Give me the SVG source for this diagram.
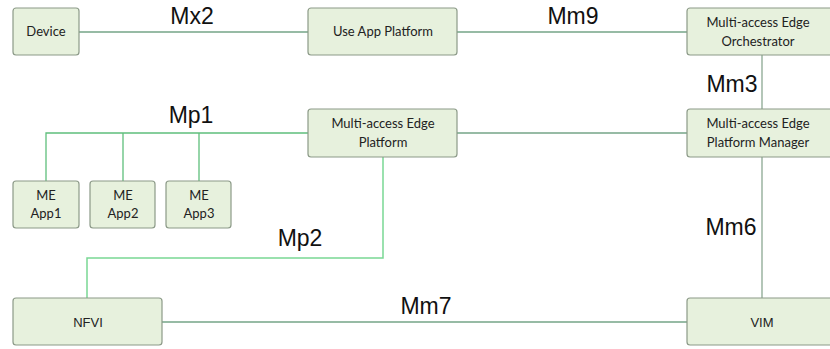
<svg xmlns="http://www.w3.org/2000/svg" width="830" height="349" viewBox="0 0 830 349">
  <style>
    .box { fill: #e7f1dd; stroke: #8c9a88; stroke-width: 1.2; }
    .txt { font-family: Lato, "Open Sans", sans-serif; font-size: 13px; fill: #222; text-anchor: middle; }
    .ntxt { font-family: "Liberation Sans", Arial, sans-serif; font-size: 13px; fill: #222; text-anchor: middle; }
    .lbl { font-family: "Liberation Sans", Arial, sans-serif; font-size: 23px; fill: #111; text-anchor: middle; }
    .ln { fill: none; stroke: #74a487; stroke-width: 1.3; }
    .lg { fill: none; stroke: #5fbf7c; stroke-width: 1.3; }
    .lb { fill: none; stroke: #79d894; stroke-width: 1.5; }
    .lm { fill: none; stroke: #8ba892; stroke-width: 1.3; }
  </style>

  <g id="connectors">
    <path class="ln" d="M79 32 H308"/>
    <path class="ln" d="M457 32 H687"/>
    <path class="lm" d="M762 55 V109"/>
    <path class="ln" d="M457 133 H687"/>
    <path class="lg" d="M308 133 H46 V181 M123 133 V181 M199 133 V181"/>
    <path class="lb" d="M383 157 V258 H87 V298"/>
    <path class="lm" d="M762 157 V298"/>
    <path class="ln" d="M162 322 H687"/>
  </g>

  <g id="labels">
    <text class="lbl" x="192" y="24">Mx2</text>
    <text class="lbl" x="573" y="24">Mm9</text>
    <text class="lbl" x="732" y="92">Mm3</text>
    <text class="lbl" x="191" y="123">Mp1</text>
    <text class="lbl" x="731" y="235">Mm6</text>
    <text class="lbl" x="300" y="246">Mp2</text>
    <text class="lbl" x="426" y="314">Mm7</text>
  </g>

  <g id="device">
    <rect class="box" x="13" y="8" width="66" height="47" rx="3"/>
    <text class="txt" x="46" y="36">Device</text>
  </g>
  <g id="use-app-platform">
    <rect class="box" x="308" y="8" width="149" height="47" rx="3"/>
    <text class="txt" x="383" y="36">Use App Platform</text>
  </g>
  <g id="orchestrator">
    <rect class="box" x="687" y="8" width="149" height="47" rx="3"/>
    <text class="txt" x="758" y="27">Multi-access Edge</text>
    <text class="txt" x="758" y="46">Orchestrator</text>
  </g>
  <g id="mep">
    <rect class="box" x="308" y="109" width="149" height="48" rx="3"/>
    <text class="txt" x="383" y="128">Multi-access Edge</text>
    <text class="txt" x="383" y="147">Platform</text>
  </g>
  <g id="mepm">
    <rect class="box" x="687" y="109" width="149" height="48" rx="3"/>
    <text class="txt" x="758" y="128">Multi-access Edge</text>
    <text class="txt" x="758" y="147">Platform Manager</text>
  </g>
  <g id="me-app1">
    <rect class="box" x="13" y="181" width="66" height="47" rx="3"/>
    <text class="txt" x="46" y="200">ME</text>
    <text class="txt" x="46" y="218">App1</text>
  </g>
  <g id="me-app2">
    <rect class="box" x="90" y="181" width="65" height="47" rx="3"/>
    <text class="txt" x="123" y="200">ME</text>
    <text class="txt" x="123" y="218">App2</text>
  </g>
  <g id="me-app3">
    <rect class="box" x="166" y="181" width="65" height="47" rx="3"/>
    <text class="txt" x="199" y="200">ME</text>
    <text class="txt" x="199" y="218">App3</text>
  </g>
  <g id="nfvi">
    <rect class="box" x="13" y="298" width="149" height="47" rx="3"/>
    <text class="ntxt" x="88" y="327">NFVI</text>
  </g>
  <g id="vim">
    <rect class="box" x="687" y="298" width="149" height="47" rx="3"/>
    <text class="ntxt" x="762" y="327">VIM</text>
  </g>
</svg>
